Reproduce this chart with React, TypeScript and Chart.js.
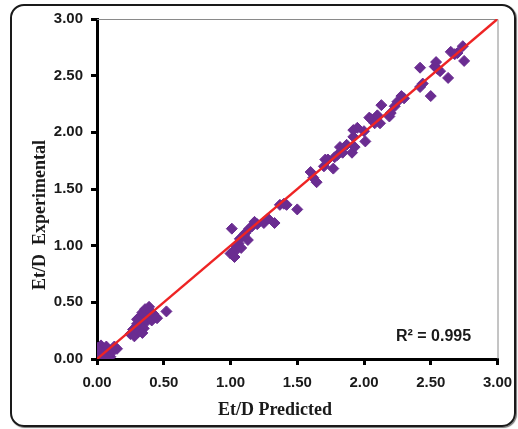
import React, { useEffect, useRef } from "react";
import { Chart, registerables } from "chart.js";

Chart.register(...registerables);

// Predicted vs. experimental Et/D values
const predicted: number[] = [
  0.0, 0.02, 0.03, 0.05, 0.07, 0.04, 0.08, 0.1, 0.12, 0.15, 0.13, 0.06, 0.0,
  0.25, 0.27, 0.28, 0.3, 0.31, 0.32, 0.33, 0.34, 0.35, 0.36, 0.37, 0.38, 0.39, 0.4, 0.41, 0.42, 0.44, 0.45, 0.3, 0.34, 0.52,
  1.0, 1.02, 1.03, 1.01, 1.04, 1.06, 1.05, 1.08, 1.07, 1.1, 1.11, 1.13, 1.14, 1.16, 1.18, 1.2, 1.25, 1.28, 1.33, 1.37, 1.42, 1.4, 1.5,
  1.6, 1.62, 1.645, 1.7, 1.71, 1.73, 1.77, 1.78, 1.8, 1.82, 1.83, 1.84, 1.87, 1.91, 1.92, 1.93, 1.92, 1.95, 2.0, 2.01, 2.04, 2.05, 2.08, 2.1, 2.12, 2.13, 2.19, 2.2, 2.23, 2.25, 2.28, 2.3,
  2.42, 2.44, 2.42, 2.5, 2.53, 2.54, 2.57, 2.55, 2.63, 2.65, 2.68, 2.7, 2.74, 2.75,
];
const experimental: number[] = [
  0.05, 0.09, 0.12, 0.08, 0.11, 0.03, 0.04, 0.02, 0.07, 0.09, 0.11, 0.01, 0.1,
  0.22, 0.26, 0.2, 0.31, 0.24, 0.37, 0.29, 0.41, 0.27, 0.44, 0.33, 0.38, 0.46, 0.42, 0.34, 0.4, 0.37, 0.36, 0.35, 0.23, 0.42,
  0.93, 0.95, 0.9, 1.15, 1.0, 1.02, 0.97, 0.98, 1.06, 1.09, 1.11, 1.05, 1.15, 1.17, 1.21, 1.19, 1.2, 1.24, 1.2, 1.36, 1.36, 1.37, 1.32,
  1.65, 1.6, 1.56, 1.7, 1.76, 1.76, 1.68, 1.78, 1.8, 1.87, 1.83, 1.82, 1.89, 1.82, 1.96, 1.87, 2.02, 2.04, 2.01, 1.92, 2.13, 2.12, 2.08, 2.15, 2.08, 2.24, 2.14, 2.17, 2.23, 2.27, 2.32, 2.3,
  2.57, 2.43, 2.4, 2.32, 2.58, 2.62, 2.54, 2.56, 2.48, 2.71, 2.69, 2.7, 2.76, 2.63,
];

// Line of equality y = x
const fitX: number[] = [0, 3];
const fitY: number[] = [0, 3];

const axisMin = 0;
const axisMax = 3;
const axisStep = 0.5;
const xTitle = "Et/D Predicted";
const yTitle = "Et/D  Experimental";
const r2Label = "R\u00B2 = 0.995";

const purple = "#6a2c91";
const tickFont = { family: "'Liberation Sans', Arial, sans-serif", size: 15, weight: "bold" as const };

export default function App() {
  const ref = useRef<HTMLCanvasElement | null>(null);

  useEffect(() => {
    if (!ref.current) return;

    const overlay = {
      id: "overlay",
      beforeDatasetsDraw(chart: any) {
        const { ctx, chartArea } = chart;
        ctx.save();
        ctx.strokeStyle = "#8a8a8a";
        ctx.lineWidth = 1;
        ctx.beginPath();
        ctx.moveTo(chartArea.left, chartArea.top + 0.5);
        ctx.lineTo(chartArea.right + 0.5, chartArea.top + 0.5);
        ctx.lineTo(chartArea.right + 0.5, chartArea.bottom);
        ctx.stroke();
        ctx.restore();
      },
      afterDraw(chart: any) {
        const { ctx } = chart;
        ctx.save();
        ctx.fillStyle = "#1a1a1a";
        ctx.font = "bold 18px 'Liberation Serif', 'Times New Roman', serif";
        ctx.textAlign = "center";
        ctx.textBaseline = "middle";
        ctx.fillText(xTitle, 275, 410);
        ctx.save();
        ctx.translate(40, 215);
        ctx.rotate(-Math.PI / 2);
        ctx.fillText(yTitle, 0, 0);
        ctx.restore();
        ctx.font = "bold 16px 'Liberation Sans', Arial, sans-serif";
        ctx.textAlign = "left";
        ctx.fillText(r2Label, 396, 337);
        ctx.restore();
      },
    };

    const chart = new Chart(ref.current, {
      type: "scatter",
      data: {
        datasets: [
          {
            type: "line",
            data: fitX.map((x, i) => ({ x, y: fitY[i] })),
            borderColor: "#ee2424",
            borderWidth: 2.4,
            pointRadius: 0,
            order: 0,
          } as any,
          {
            data: predicted.map((x, i) => ({ x, y: experimental[i] })),
            pointStyle: "rectRot",
            pointRadius: 5.5,
            backgroundColor: purple,
            borderColor: purple,
            borderWidth: 1,
            order: 1,
          },
        ],
      },
      options: {
        animation: false,
        responsive: false,
        layout: { padding: { left: 0, right: 20.5, top: 19, bottom: 0 } },
        plugins: { legend: { display: false }, tooltip: { enabled: false } },
        scales: {
          x: {
            type: "linear",
            min: axisMin,
            max: axisMax,
            afterFit: (s: any) => {
              s.height = 70;
              s.paddingLeft = 0;
              s.paddingRight = 0;
            },
            ticks: {
              stepSize: axisStep,
              padding: 9,
              color: "#1a1a1a",
              font: tickFont,
              callback: (v: any) => Number(v).toFixed(2),
            },
            grid: { drawOnChartArea: false, tickLength: 6, color: "#000", lineWidth: 3 },
            border: { color: "#000", width: 3 },
          },
          y: {
            type: "linear",
            min: axisMin,
            max: axisMax,
            afterFit: (s: any) => {
              s.width = 97;
              s.paddingTop = 0;
              s.paddingBottom = 0;
            },
            ticks: {
              stepSize: axisStep,
              padding: 8,
              color: "#1a1a1a",
              font: tickFont,
              callback: (v: any) => Number(v).toFixed(2),
            },
            grid: { drawOnChartArea: false, tickLength: 6, color: "#000", lineWidth: 3 },
            border: { color: "#000", width: 3 },
          },
        },
      },
      plugins: [overlay],
    });
    return () => chart.destroy();
  }, []);

  return (
    <div style={{ position: "absolute", left: 0, top: 0, width: 518, height: 429, background: "#fff" }}>
      <canvas ref={ref} width={518} height={429} style={{ position: "absolute", left: 0, top: 0 }} />
      <div
        style={{
          position: "absolute",
          left: 10,
          top: 4,
          width: 502,
          height: 419,
          border: "2px solid #1a1a1a",
          borderRadius: 14,
          boxShadow: "1px 1px 1px #777",
          pointerEvents: "none",
        }}
      />
    </div>
  );
}
